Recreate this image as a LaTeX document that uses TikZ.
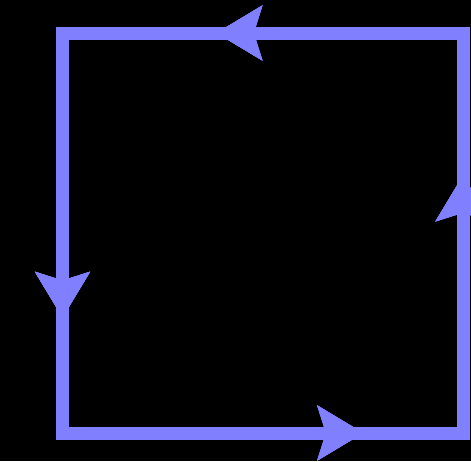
\documentclass[tikz,border=0pt]{standalone}
\usetikzlibrary{arrows.meta,decorations.markings}
\definecolor{loopblue}{HTML}{8080FF}
\tikzset{
  loopline/.style={draw=loopblue,line width=9.75pt,line join=miter},
  looparrow/.style={decoration={markings,
    mark=at position #1 with {\arrow[loopblue]{Stealth[length=34pt,width=40pt,inset=6pt]}}},
    postaction=decorate}
}
\begin{document}
\begin{tikzpicture}[x=0.75pt,y=-0.75pt]
  \fill[black] (0,0) rectangle (471,461);
  \useasboundingbox (0,0) rectangle (471,461);
  % corners of the loop
  \coordinate (ne) at (463,33);
  \coordinate (nw) at (62.5,33);
  \coordinate (sw) at (62.5,433);
  \coordinate (se) at (463,433);
  \draw[loopline,
    looparrow=185pt, looparrow=514pt,
    looparrow=826pt, looparrow=1094pt]
    (ne) -- (nw) -- (sw) -- (se) -- cycle;
\end{tikzpicture}
\end{document}
